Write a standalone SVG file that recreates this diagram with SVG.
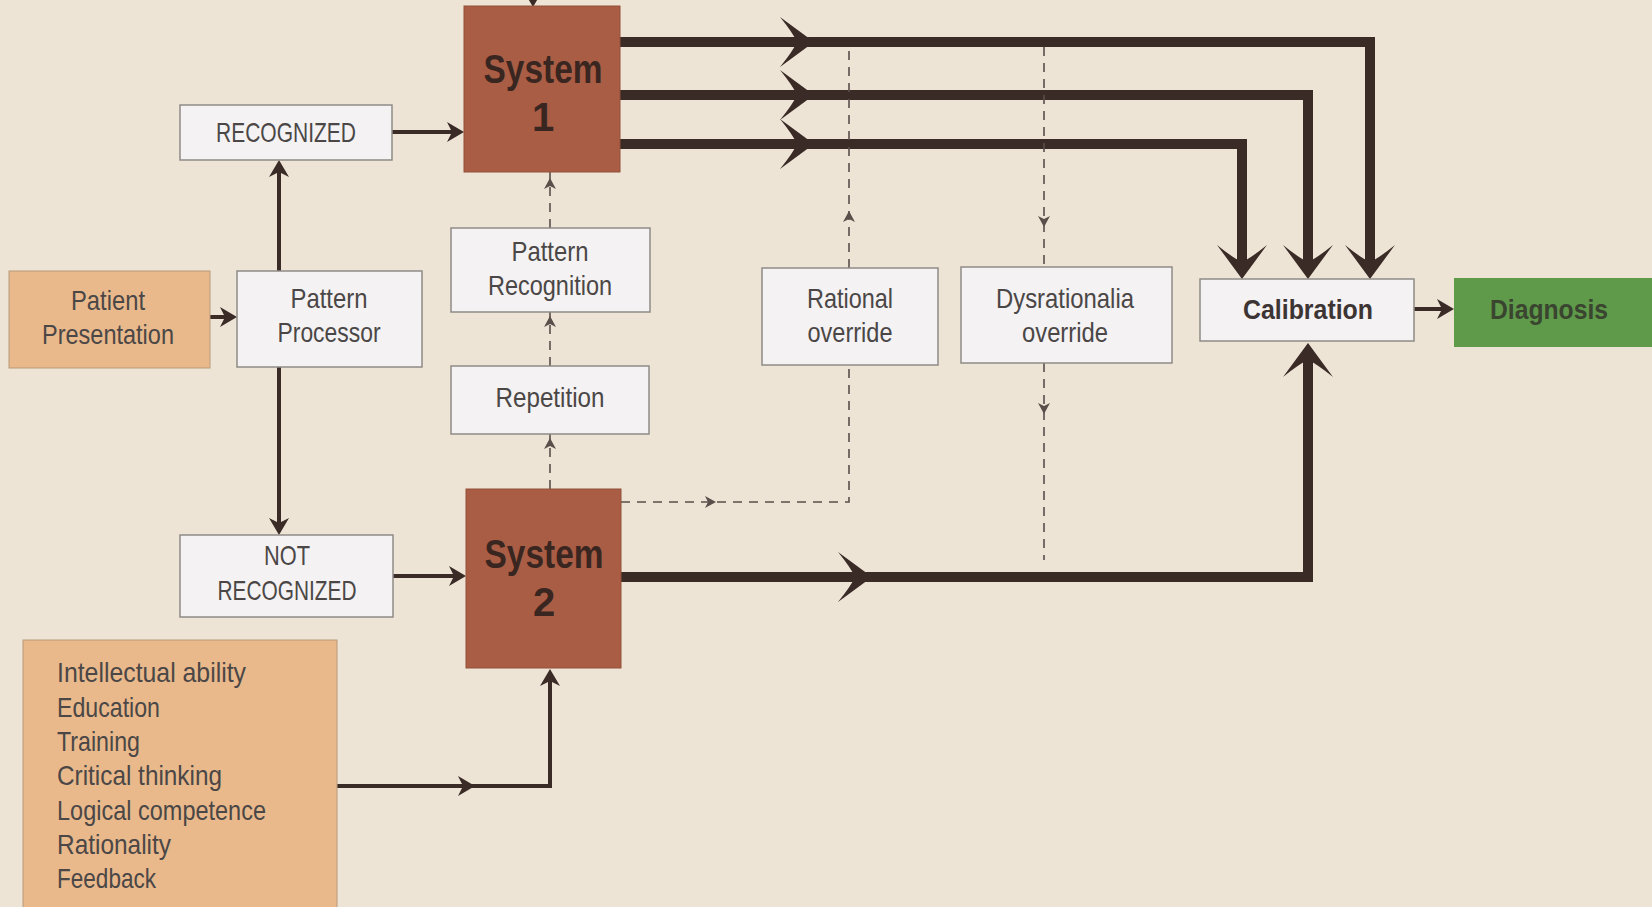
<svg xmlns="http://www.w3.org/2000/svg" width="1652" height="907" viewBox="0 0 1652 907">
<style>
.bg{fill:#ede4d5}
.wbox{fill:#f4f2f3;stroke:#8f8a86;stroke-width:1.5}
.tan{fill:#e9b98c;stroke:#b89a7a;stroke-width:1}
.sys{fill:#a95d45;stroke:#94503b;stroke-width:1}
.green{fill:#5f9a4b}
.t{font-family:"Liberation Sans",Arial,sans-serif;font-size:28px;fill:#4b4746;text-anchor:middle}
.tl{text-anchor:start}
.b{font-weight:bold;fill:#3c3533;font-size:27px}
.sysT{font-family:"Liberation Sans",Arial,sans-serif;font-weight:bold;font-size:40px;fill:#3a2620;text-anchor:middle}
.thick{fill:none;stroke:#3a2b27;stroke-width:10;stroke-linejoin:miter}
.mid{fill:none;stroke:#3a2b27;stroke-width:4}
.dash{fill:none;stroke:#5a4f4a;stroke-width:1.6;stroke-dasharray:9 7}
.head{fill:#3a2b27}
.dhead{fill:#5a4f4a}
</style>
<defs>
<path id="big" d="M0,0 L-34,-25 Q-21,-9 -17,0 Q-21,9 -34,25 Z"/>
<path id="small" d="M0,0 L-17,-10 L-12,0 L-17,10 Z"/>
<path id="tiny" d="M0,0 L-11,-6 L-8,0 L-11,6 Z"/>
</defs>
<rect class="bg" x="0" y="0" width="1652" height="907"/>

<g id="connectors">
  <path class="thick" d="M620,42 H1370 V272"/>
  <path class="thick" d="M620,95 H1308 V272"/>
  <path class="thick" d="M620,144 H1242 V272"/>
  <use href="#big" class="head" transform="translate(814,42)"/>
  <use href="#big" class="head" transform="translate(814,95)"/>
  <use href="#big" class="head" transform="translate(814,144)"/>
  <use href="#big" class="head" transform="translate(1370,279) rotate(90)"/>
  <use href="#big" class="head" transform="translate(1308,279) rotate(90)"/>
  <use href="#big" class="head" transform="translate(1242,279) rotate(90)"/>
  <path class="thick" d="M621,577 H1308 V350"/>
  <use href="#big" class="head" transform="translate(872,577)"/>
  <use href="#big" class="head" transform="translate(1308,343) rotate(-90)"/>
  <path class="mid" d="M1414,309 H1448"/>
  <use href="#small" class="head" transform="translate(1454,309)"/>
  <path class="mid" d="M533,0 V3"/>
  <use href="#small" class="head" transform="translate(533,7) rotate(90)"/>
  <path class="mid" d="M392,132 H458"/>
  <use href="#small" class="head" transform="translate(464,132)"/>
  <path class="mid" d="M279,271 V166"/>
  <use href="#small" class="head" transform="translate(279,160) rotate(-90)"/>
  <path class="mid" d="M279,367 V529"/>
  <use href="#small" class="head" transform="translate(279,535) rotate(90)"/>
  <path class="mid" d="M210,317 H231"/>
  <use href="#small" class="head" transform="translate(237,317)"/>
  <path class="mid" d="M393,576 H460"/>
  <use href="#small" class="head" transform="translate(466,576)"/>
  <path class="mid" d="M337,786 H550 V674"/>
  <use href="#small" class="head" transform="translate(475,786)"/>
  <use href="#small" class="head" transform="translate(550,669) rotate(-90)"/>
  <path class="dash" d="M550,489 V434"/>
  <use href="#tiny" class="dhead" transform="translate(550,438) rotate(-90)"/>
  <path class="dash" d="M550,366 V312"/>
  <use href="#tiny" class="dhead" transform="translate(550,316) rotate(-90)"/>
  <path class="dash" d="M550,228 V172"/>
  <use href="#tiny" class="dhead" transform="translate(550,178) rotate(-90)"/>
  <path class="dash" d="M621,502 H849 V365"/>
  <use href="#tiny" class="dhead" transform="translate(716,502)"/>
  <path class="dash" d="M849,268 V47"/>
  <use href="#tiny" class="dhead" transform="translate(849,211) rotate(-90)"/>
  <path class="dash" d="M1044,47 V267"/>
  <use href="#tiny" class="dhead" transform="translate(1044,227) rotate(90)"/>
  <path class="dash" d="M1044,363 V560"/>
  <use href="#tiny" class="dhead" transform="translate(1044,414) rotate(90)"/>
</g>

<g id="system1">
  <rect class="sys" x="464" y="6" width="156" height="166"/>
  <text class="sysT" x="543" y="83" textLength="119" lengthAdjust="spacingAndGlyphs">System</text>
  <text class="sysT" x="543" y="131">1</text>
</g>
<g id="recognized">
  <rect class="wbox" x="180" y="105" width="212" height="55"/>
  <text class="t" x="286" y="142" textLength="140" lengthAdjust="spacingAndGlyphs">RECOGNIZED</text>
</g>
<g id="patient">
  <rect class="tan" x="9" y="271" width="201" height="97"/>
  <text class="t" x="108" y="310" textLength="74" lengthAdjust="spacingAndGlyphs">Patient</text>
  <text class="t" x="108" y="344" textLength="132" lengthAdjust="spacingAndGlyphs">Presentation</text>
</g>
<g id="processor">
  <rect class="wbox" x="237" y="271" width="185" height="96"/>
  <text class="t" x="329" y="308" textLength="77" lengthAdjust="spacingAndGlyphs">Pattern</text>
  <text class="t" x="329" y="342" textLength="103" lengthAdjust="spacingAndGlyphs">Processor</text>
</g>
<g id="patternrec">
  <rect class="wbox" x="451" y="228" width="199" height="84"/>
  <text class="t" x="550" y="261" textLength="77" lengthAdjust="spacingAndGlyphs">Pattern</text>
  <text class="t" x="550" y="295" textLength="124" lengthAdjust="spacingAndGlyphs">Recognition</text>
</g>
<g id="repetition">
  <rect class="wbox" x="451" y="366" width="198" height="68"/>
  <text class="t" x="550" y="407" textLength="109" lengthAdjust="spacingAndGlyphs">Repetition</text>
</g>
<g id="rational">
  <rect class="wbox" x="762" y="268" width="176" height="97"/>
  <text class="t" x="850" y="308" textLength="86" lengthAdjust="spacingAndGlyphs">Rational</text>
  <text class="t" x="850" y="342" textLength="85" lengthAdjust="spacingAndGlyphs">override</text>
</g>
<g id="dysrationalia">
  <rect class="wbox" x="961" y="267" width="211" height="96"/>
  <text class="t" x="1065" y="308" textLength="138" lengthAdjust="spacingAndGlyphs">Dysrationalia</text>
  <text class="t" x="1065" y="342" textLength="86" lengthAdjust="spacingAndGlyphs">override</text>
</g>
<g id="calibration">
  <rect class="wbox" x="1200" y="279" width="214" height="62"/>
  <text class="t b" x="1308" y="319" textLength="130" lengthAdjust="spacingAndGlyphs">Calibration</text>
</g>
<g id="diagnosis">
  <rect class="green" x="1454" y="278" width="198" height="69"/>
  <text class="t b" x="1549" y="319" textLength="118" lengthAdjust="spacingAndGlyphs" style="fill:#3a4530">Diagnosis</text>
</g>
<g id="notrecognized">
  <rect class="wbox" x="180" y="535" width="213" height="82"/>
  <text class="t" x="287" y="565" textLength="46" lengthAdjust="spacingAndGlyphs">NOT</text>
  <text class="t" x="287" y="600" textLength="139" lengthAdjust="spacingAndGlyphs">RECOGNIZED</text>
</g>
<g id="system2">
  <rect class="sys" x="466" y="489" width="155" height="179"/>
  <text class="sysT" x="544" y="568" textLength="119" lengthAdjust="spacingAndGlyphs">System</text>
  <text class="sysT" x="544" y="616">2</text>
</g>
<g id="attributes">
  <rect class="tan" x="23" y="640" width="314" height="270"/>
  <text class="t tl" x="57" y="682" textLength="189" lengthAdjust="spacingAndGlyphs">Intellectual ability</text>
  <text class="t tl" x="57" y="717" textLength="103" lengthAdjust="spacingAndGlyphs">Education</text>
  <text class="t tl" x="57" y="751" textLength="83" lengthAdjust="spacingAndGlyphs">Training</text>
  <text class="t tl" x="57" y="785" textLength="165" lengthAdjust="spacingAndGlyphs">Critical thinking</text>
  <text class="t tl" x="57" y="820" textLength="209" lengthAdjust="spacingAndGlyphs">Logical competence</text>
  <text class="t tl" x="57" y="854" textLength="114" lengthAdjust="spacingAndGlyphs">Rationality</text>
  <text class="t tl" x="57" y="888" textLength="99" lengthAdjust="spacingAndGlyphs">Feedback</text>
</g>
</svg>
